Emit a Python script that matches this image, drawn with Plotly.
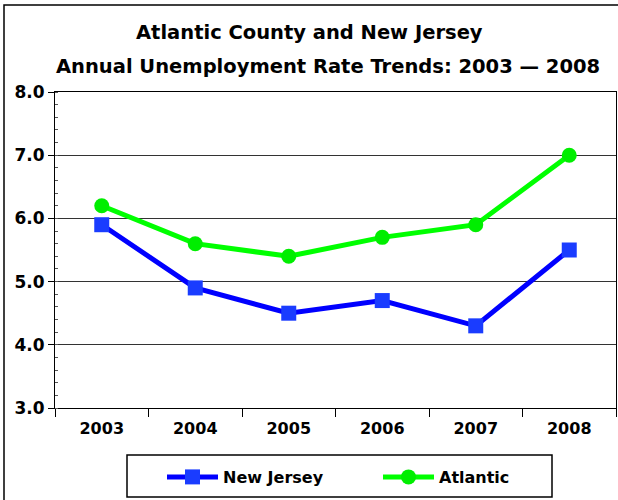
import plotly.graph_objects as go

years = ["2003", "2004", "2005", "2006", "2007", "2008"]
new_jersey = [5.9, 4.9, 4.5, 4.7, 4.3, 5.5]
atlantic = [6.2, 5.6, 5.4, 5.7, 5.9, 7.0]
y_ticks = [3.0, 4.0, 5.0, 6.0, 7.0, 8.0]

FONT = "DejaVu Sans"
W, H = 618, 500
L, R, T, B = 55, 2, 92, 92
pw, ph = W - L - R, H - T - B


def px_x(x):
    return (x - L) / pw


def px_y(y):
    return (H - B - y) / ph


fig = go.Figure()
fig.add_trace(go.Scatter(
    x=years, y=new_jersey, name="New Jersey", mode="lines+markers",
    line=dict(color="#0000FF", width=5),
    marker=dict(symbol="square", size=15, color="#1A3CFF"),
))
fig.add_trace(go.Scatter(
    x=years, y=atlantic, name="Atlantic", mode="lines+markers",
    line=dict(color="#00FF00", width=5),
    marker=dict(symbol="circle", size=15, color="#00EE00"),
))

fig.update_layout(
    width=W, height=H,
    margin=dict(l=L, r=R, t=T, b=B, autoexpand=False),
    paper_bgcolor="white", plot_bgcolor="white",
    font=dict(family=FONT, color="black"),
    showlegend=True,
    legend=dict(
        orientation="h", x=px_x(162), y=px_y(460), xanchor="left", yanchor="top",
        entrywidth=150, entrywidthmode="pixels", itemwidth=51,
        font=dict(family=FONT, size=16, color="black", weight="bold"),
        bgcolor="rgba(0,0,0,0)", borderwidth=0,
    ),
    xaxis=dict(
        type="category", showgrid=False, showline=True, linecolor="black", linewidth=1,
        mirror=True, ticks="outside", ticklen=8, tickcolor="black", tickson="boundaries",
        tickfont=dict(family=FONT, size=16, weight="bold"), ticklabelstandoff=6,
        range=[-0.5, 5.5],
    ),
    yaxis=dict(
        range=[3.0, 8.0], tickvals=y_ticks, ticktext=[f"{v:.1f}" for v in y_ticks],
        showgrid=True, gridcolor="#333333", gridwidth=1,
        showline=True, linecolor="black", linewidth=1, mirror=True,
        ticks="outside", ticklen=6, tickcolor="black",
        tickfont=dict(family=FONT, size=17, weight="bold"),
        minor=dict(dtick=0.2, ticks="inside", ticklen=3, tickcolor="#555555", showgrid=False),
        zeroline=False,
    ),
    shapes=[
        # outer chart frame
        dict(type="rect", xref="paper", yref="paper",
             x0=px_x(4), x1=px_x(620), y0=px_y(505), y1=px_y(5),
             line=dict(color="black", width=1.5), fillcolor="rgba(0,0,0,0)"),
        # legend frame
        dict(type="rect", xref="paper", yref="paper",
             x0=px_x(127), x1=px_x(552), y0=px_y(497), y1=px_y(455),
             line=dict(color="black", width=1.5), fillcolor="rgba(0,0,0,0)"),
    ],
    annotations=[
        dict(text="Atlantic County and New Jersey", xref="paper", yref="paper",
             x=px_x(309), y=px_y(32), xanchor="center", yanchor="middle", showarrow=False,
             font=dict(family=FONT, size=19.5, weight="bold")),
        dict(text="Annual Unemployment Rate Trends: 2003 \u2014 2008", xref="paper", yref="paper",
             x=px_x(328), y=px_y(66), xanchor="center", yanchor="middle", showarrow=False,
             font=dict(family=FONT, size=19.5, weight="bold")),
    ],
)

fig.write_html("out.html")
